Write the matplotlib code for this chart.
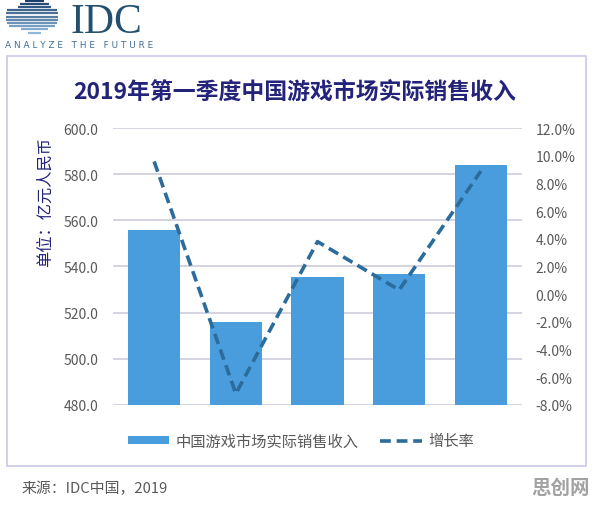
import numpy as np
import matplotlib
matplotlib.use('Agg')
import matplotlib.pyplot as plt
from matplotlib.patches import Rectangle

plt.rcParams['font.family'] = ['Noto Sans CJK SC', 'DejaVu Sans']

# data
quarters = ['Q1', 'Q2', 'Q3', 'Q4', 'Q5']
revenue = [555.7, 515.8, 535.4, 536.6, 584.2]          # 亿元人民币
growth = [9.6, -7.2, 3.8, 0.3, 8.9]                     # %
left_ticks = [480, 500, 520, 540, 560, 580, 600]
right_ticks = [-8, -6, -4, -2, 0, 2, 4, 6, 8, 10, 12]

bar_color = '#4a9ddd'
line_color = '#2c6c9c'
grid_color = '#c9c9d9'
text_gray = '#595959'
navy = '#23237a'

W, H = 596, 506
fig = plt.figure(figsize=(W / 100, H / 100), dpi=100)

# outer frame
fig.patches.append(Rectangle((7.5 / W, 1 - 467 / H), (586 - 7.5) / W, (467 - 56.7) / H,
                             transform=fig.transFigure, fill=False, edgecolor='#c8c8e6', linewidth=1.2))

ax = fig.add_axes([113.3 / W, 1 - 405.7 / H, 408.4 / W, 276.4 / H])
x = np.arange(len(quarters))
ax.bar(x, revenue, width=0.64, color=bar_color, zorder=2, label='中国游戏市场实际销售收入')
ax.set_xlim(-0.5, len(quarters) - 0.5)
ax.set_ylim(480, 600)
ax.set_yticks(left_ticks)
ax.set_yticklabels([f'{v:.1f}' for v in left_ticks], color=text_gray, fontsize=10)
ax.set_xticks([])
ax.tick_params(axis='y', length=0, pad=11)
for s in ax.spines.values():
    s.set_visible(False)
ax.yaxis.grid(True, color=grid_color, linewidth=1.1, zorder=0)
ax.set_axisbelow(True)
ax.set_ylabel('单位：亿元人民币', color=navy, fontsize=11.7, labelpad=2)
ax.yaxis.set_label_coords(-0.145, 0.737)

ax2 = ax.twinx()
ax2.plot(x, growth, color=line_color, linewidth=2.6, linestyle=(0, (3, 1.6)), zorder=3, label='增长率')
ax2.set_ylim(-8, 12)
ax2.set_yticks(right_ticks)
ax2.set_yticklabels([f'{v:.1f}%' for v in right_ticks], color=text_gray, fontsize=10)
ax2.tick_params(axis='y', length=0, pad=10)
for s in ax2.spines.values():
    s.set_visible(False)

# legend
h1, l1 = ax.get_legend_handles_labels()
h2, l2 = ax2.get_legend_handles_labels()
fig.legend(h1 + h2, l1 + l2, loc='center', bbox_to_anchor=(0.505, 1 - 442 / H), ncol=2,
           frameon=False, fontsize=11, handlelength=2.7, handleheight=0.5, columnspacing=1.4,
           labelcolor=text_gray, handletextpad=0.45)

# title
fig.text(295 / W, 1 - 92 / H, '2019年第一季度中国游戏市场实际销售收入', ha='center', va='center',
         fontsize=16.5, fontweight='bold', color=navy)

# source + watermark
fig.text(21 / W, 1 - 489 / H, '来源：IDC中国，2019', ha='left', va='center', fontsize=10.7, color=text_gray)
fig.text(590 / W, 1 - 488 / H, '思创网', ha='right', va='center', fontsize=14,
         fontweight='bold', color='#a2a2a2')

# IDC logo
lax = fig.add_axes([0, 1 - 40 / H, 70 / W, 40 / H])
lax.set_xlim(0, 70)
lax.set_ylim(40, 0)
lax.axis('off')
cx, cy, r = 35, 17, 17
stripes = np.arange(1.5, 34, 3.2)
for i, yy in enumerate(stripes):
    frac = i / (len(stripes) - 1)
    col = (0.11 + 0.45 * frac, 0.25 + 0.47 * frac, 0.42 + 0.43 * frac)
    half = np.sqrt(max(r * r - (yy - cy) ** 2, 0))
    ext_l = 12 if 2 < i < 9 else 3
    ext_r = 6 if 2 < i < 9 else 2
    lax.plot([cx - half - ext_l, cx + half + ext_r], [yy, yy], color=col, linewidth=1.6,
             solid_capstyle='butt')
fig.text(71 / W, 1 - 33 / H, 'IDC', fontsize=30, family=['Liberation Serif'], color='#24506f',
         ha='left', va='baseline')
fig.text(5 / W, 1 - 46 / H, 'A N A L Y Z E   T H E   F U T U R E', fontsize=6.4, color='#3f6f93',
         ha='left', va='center', family=['DejaVu Sans'])

fig.savefig('out.png', dpi=100)
